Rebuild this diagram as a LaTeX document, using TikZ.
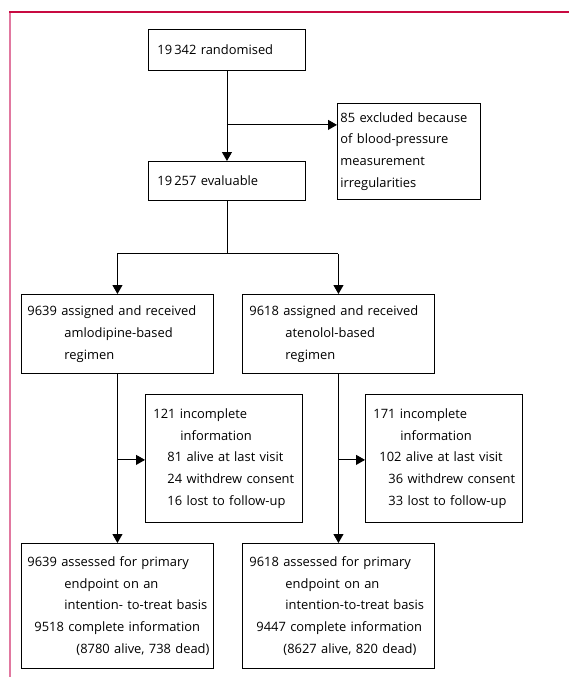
\documentclass[tikz,border=0pt]{standalone}
\usepackage{fontspec}
\setmainfont{Open Sans}
\usetikzlibrary{arrows.meta}
\definecolor{framered}{RGB}{200,10,65}
\definecolor{framepink}{RGB}{225,120,160}
\newcommand\flowfont{\fontsize{12.9}{21.7}\selectfont}
\begin{document}
\begin{tikzpicture}[x=1pt, y=-1pt,
    box/.style={draw, line width=0.9pt, rectangle, anchor=north west,
        inner xsep=3pt, inner ysep=0pt, align=left, font=\flowfont},
    flow/.style={line width=0.9pt, -{Triangle[length=9pt,width=10pt]}},
    line/.style={line width=0.9pt}]
    \useasboundingbox (0,0) rectangle (569,677);

    % Frame of the page
    \draw[framepink, line width=2pt] (9.5,12) -- (9.5,677);
    \draw[framered, line width=1.5pt] (9,12) -- (569,12);

    % Randomisation
    \node[box, text width=151pt, minimum height=41pt] (rand) at (148,29)
        {\hspace*{6pt}19\,342 randomised};
    \node[box, text width=137pt, minimum height=96pt] (excl) at (337,103)
        {85 excluded because\\of blood-pressure\\measurement\\irregularities};
    \node[box, text width=151pt, minimum height=39pt] (eval) at (148,161)
        {\hspace*{6pt}19\,257 evaluable};

    \draw[flow] (rand) -- (eval);
    \path (rand.south) ++(0,54) coordinate (jexcl);
    \draw[flow] (jexcl) -- (jexcl -| excl.west);

    % Two treatment groups
    \node[box, text width=186pt, minimum height=79pt] (amlo) at (21,294)
        {\hspace*{3pt}9639 assigned and received\\
         \hspace*{40pt}amlodipine-based\\
         \hspace*{40pt}regimen};
    \node[box, text width=186pt, minimum height=79pt] (aten) at (242,294)
        {\hspace*{4pt}9618 assigned and received\\
         \hspace*{40pt}atenolol-based\\
         \hspace*{40pt}regimen};

    \path (eval.south) ++(0,53) coordinate (split);
    \draw[line] (eval) -- (split);
    \draw[line] (split -| amlo) -- (split -| aten);
    \draw[flow] (split -| amlo) -- (amlo);
    \draw[flow] (split -| aten) -- (aten);

    % Incomplete information
    \node[box, text width=151pt, minimum height=128pt] (incA) at (145,394)
        {\hspace*{5pt}121 incomplete\\
         \hspace*{32pt}information\\
         \hspace*{19pt}81 alive at last visit\\
         \hspace*{19pt}24 withdrew consent\\
         \hspace*{19pt}16 lost to follow-up};
    \node[box, text width=151pt, minimum height=128pt] (incB) at (365,394)
        {\hspace*{5pt}171 incomplete\\
         \hspace*{32pt}information\\
         \hspace*{11pt}102 alive at last visit\\
         \hspace*{20pt}36 withdrew consent\\
         \hspace*{20pt}33 lost to follow-up};

    % Assessed for primary endpoint
    \node[box, text width=186pt, minimum height=125pt] (itA) at (21,543)
        {\hspace*{3pt}\mbox{9639 assessed for primary}\\
         \hspace*{40pt}\mbox{endpoint on an}\\
         \hspace*{40pt}\mbox{intention- to-treat basis}\\
         \hspace*{10pt}\mbox{9518 complete information}\\
         \hspace*{52pt}\mbox{(8780 alive, 738 dead)}};
    \node[box, text width=186pt, minimum height=125pt] (itB) at (242,543)
        {\hspace*{4pt}\mbox{9618 assessed for primary}\\
         \hspace*{40pt}\mbox{endpoint on an}\\
         \hspace*{40pt}\mbox{intention-to-treat basis}\\
         \hspace*{11pt}\mbox{9447 complete information}\\
         \hspace*{38pt}\mbox{(8627 alive, 820 dead)}};

    \draw[flow] (amlo) -- (amlo |- itA.north);
    \draw[flow] (aten) -- (aten |- itB.north);
    \path (amlo.south) ++(0,86) coordinate (jincA);
    \path (aten.south) ++(0,86) coordinate (jincB);
    \draw[flow] (jincA) -- (jincA -| incA.west);
    \draw[flow] (jincB) -- (jincB -| incB.west);
\end{tikzpicture}
\end{document}
